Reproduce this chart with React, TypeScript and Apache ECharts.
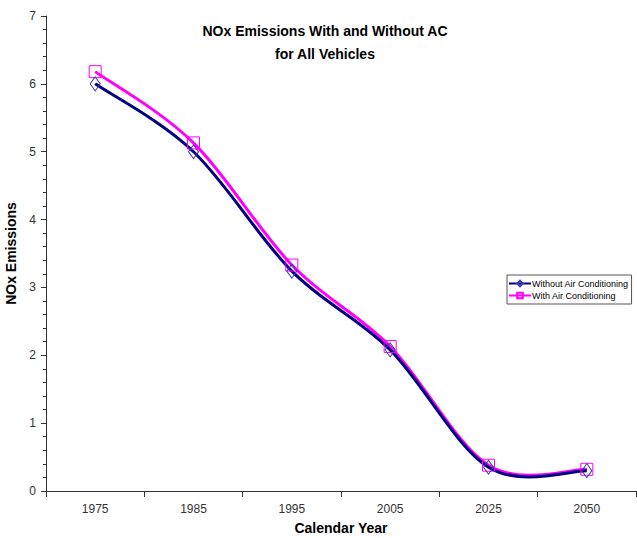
import React, { useEffect, useRef } from "react";
import * as echarts from "echarts";

const years = ["1975", "1985", "1995", "2005", "2025", "2050"];
const withoutAC = [6.0, 5.0, 3.24, 2.08, 0.35, 0.3];
const withAC = [6.18, 5.13, 3.33, 2.13, 0.38, 0.32];

function curveSeries(name: string, values: number[], color: string, z: number) {
  return {
    name,
    type: "custom",
    data: values.map((v, i) => [i, v]),
    encode: { x: 0, y: 1 },
    z,
    silent: true,
    renderItem: (params: any, api: any) => {
      if (params.dataIndex !== 0) return null;
      const pts = values.map((v, i) => api.coord([i, v]));
      const n = pts.length;
      let d = `M${pts[0][0]},${pts[0][1]}`;
      for (let i = 0; i < n - 1; i++) {
        const p0 = pts[Math.max(0, i - 1)];
        const p1 = pts[i];
        const p2 = pts[i + 1];
        const p3 = pts[Math.min(n - 1, i + 2)];
        const c1x = p1[0] + (p2[0] - p0[0]) / 6;
        const c1y = p1[1] + (p2[1] - p0[1]) / 6;
        const c2x = p2[0] - (p3[0] - p1[0]) / 6;
        const c2y = p2[1] - (p3[1] - p1[1]) / 6;
        d += ` C${c1x},${c1y} ${c2x},${c2y} ${p2[0]},${p2[1]}`;
      }
      return {
        type: "path",
        shape: { pathData: d },
        style: { stroke: color, lineWidth: 3, fill: "none", lineJoin: "round" },
      };
    },
  };
}

export default function App() {
  const ref = useRef<HTMLDivElement>(null);
  useEffect(() => {
    const chart = echarts.init(ref.current!, null, { renderer: "svg" });
    const font = "Liberation Sans, Arial, sans-serif";
    chart.setOption({
      animation: false,
      backgroundColor: "#ffffff",
      title: {
        text: "NOx Emissions With and Without AC\nfor All Vehicles",
        left: 320,
        top: 14,
        textAlign: "center",
        textStyle: { fontFamily: font, fontSize: 14, fontWeight: "bold", color: "#000", lineHeight: 23 },
      },
      legend: {
        orient: "vertical",
        left: 507,
        top: 275,
        itemGap: 1,
        itemWidth: 22,
        itemHeight: 7,
        padding: [3, 3, 3, 1],
        borderColor: "#555",
        borderWidth: 1,
        lineStyle: { opacity: 1 },
        textStyle: { fontFamily: font, fontSize: 9, color: "#000", padding: [0, 0, 0, -4], lineHeight: 11 },
        data: ["Without Air Conditioning", "With Air Conditioning"],
      },
      grid: { left: 46, right: 1, top: 16, bottom: 47, containLabel: false, outerBoundsMode: "none" },
      xAxis: {
        type: "category",
        data: years,
        boundaryGap: true,
        name: "Calendar Year",
        nameLocation: "middle",
        nameGap: 30,
        nameTextStyle: { fontFamily: font, fontSize: 14, fontWeight: "bold", color: "#000" },
        axisLine: { lineStyle: { color: "#333", width: 1 } },
        axisTick: { show: true, length: 6, lineStyle: { color: "#333" } },
        axisLabel: { fontFamily: font, fontSize: 12, color: "#333", margin: 12 },
        splitLine: { show: false },
      },
      yAxis: {
        type: "value",
        min: 0,
        max: 7,
        interval: 1,
        name: "NOx Emissions",
        nameLocation: "middle",
        nameGap: 28,
        nameTextStyle: { fontFamily: font, fontSize: 14, fontWeight: "bold", color: "#000" },
        axisLine: { show: true, lineStyle: { color: "#333", width: 1 } },
        axisTick: { show: true, length: 5, lineStyle: { color: "#333" } },
        minorTick: { show: true, splitNumber: 5, length: 3, lineStyle: { color: "#333" } },
        axisLabel: { fontFamily: font, fontSize: 12, color: "#333", margin: 10 },
        splitLine: { show: false },
      },
      series: [
        curveSeries("curve-with", withAC, "#ff00ff", 2),
        curveSeries("curve-without", withoutAC, "#000080", 3),
        {
          name: "Without Air Conditioning",
          type: "line",
          data: withoutAC,
          symbol: "diamond",
          symbolSize: [10, 14],
          lineStyle: { color: "#000080", width: 3, opacity: 0 },
          itemStyle: { color: "rgba(255,255,255,0)", borderColor: "#3b3bb0", borderWidth: 1 },
          z: 5,
        },
        {
          name: "With Air Conditioning",
          type: "line",
          data: withAC,
          symbol: "rect",
          symbolSize: 12,
          lineStyle: { color: "#ff00ff", width: 3, opacity: 0 },
          itemStyle: { color: "rgba(255,255,255,0)", borderColor: "#ff00ff", borderWidth: 1 },
          z: 4,
        },
      ],
    });
    return () => chart.dispose();
  }, []);
  return <div ref={ref} style={{ width: 637, height: 538, position: "absolute", left: 0, top: 0 }} />;
}
